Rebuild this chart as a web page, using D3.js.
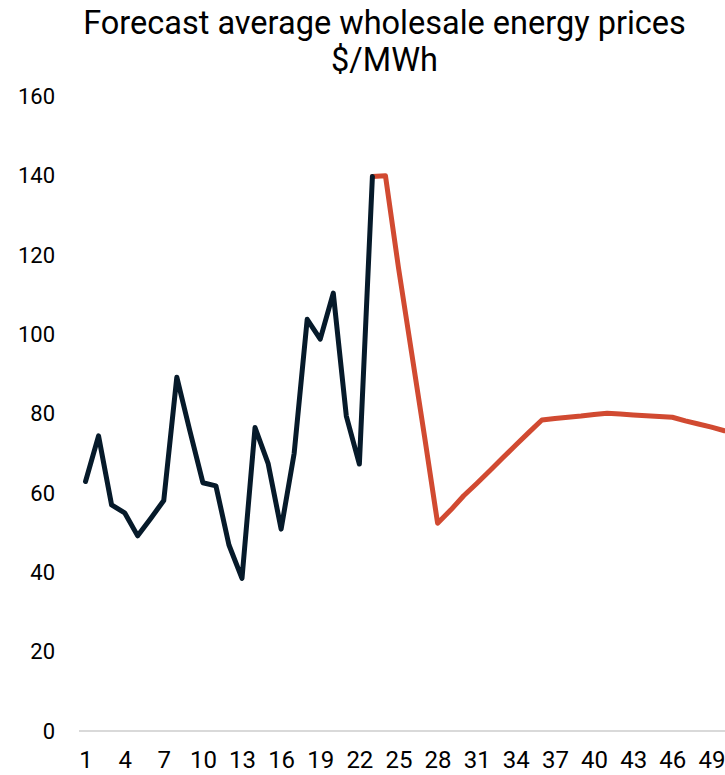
<!DOCTYPE html>
<html>
<head>
<meta charset="utf-8">
<script src="https://cdn.jsdelivr.net/npm/d3@7"></script>
<style>
  html, body { margin: 0; padding: 0; background: #fff; overflow: hidden; }
  text { font-family: Roboto, "Noto Sans", sans-serif; }
</style>
</head>
<body>
<svg id="chart" width="725" height="775"></svg>
<script>
const categories = d3.range(1, 51);
const actualValues = [62.9, 74.4, 57.0, 55.0, 49.2, 53.6, 58.1, 89.2, 75.7, 62.6,
  61.8, 46.9, 38.5, 76.5, 67.5, 50.9, 70.0, 103.8, 98.8, 110.4,
  79.4, 67.3, 139.8];
const forecastStart = 23;
const forecastValues = [139.8, 140.0, 116.8, 95.5, 74.2, 52.4, 55.7, 59.3, 62.4, 65.6,
  68.9, 72.1, 75.3, 78.4, 78.8, 79.1, 79.4, 79.8, 80.1, 79.9,
  79.7, 79.5, 79.3, 79.1, 78.2, 77.4, 76.6, 75.7];
const yTicks = [0, 20, 40, 60, 80, 100, 120, 140, 160];
const xTickLabels = categories.filter(c => (c - 1) % 3 === 0);
const titleLines = ["Forecast average wholesale energy prices", "$/MWh"];

const svg = d3.select("#chart");
const plotLeft = 79, step = 13.04;
const x = d3.scalePoint().domain(categories)
  .range([plotLeft, plotLeft + categories.length * step]).padding(0.5);
const y = d3.scaleLinear().domain([0, 160]).range([731, 96.4]);

// title
svg.append("g").selectAll("text").data(titleLines).join("text")
  .attr("x", 384.5).attr("y", (d, i) => 33.5 + i * 37.5)
  .attr("text-anchor", "middle")
  .attr("font-size", 32.5).attr("fill", "#000")
  .text(d => d);

// baseline
svg.append("line")
  .attr("x1", plotLeft).attr("x2", 725)
  .attr("y1", y(0)).attr("y2", y(0))
  .attr("stroke", "#d9d9d9").attr("stroke-width", 2);

// y axis labels
const yAxis = d3.axisLeft(y).tickValues(yTicks).tickSize(0).tickPadding(0);
const yG = svg.append("g").attr("transform", "translate(55,0)").call(yAxis);
yG.select(".domain").remove();
yG.selectAll("text").attr("font-size", 22).attr("fill", "#000")
  .attr("font-family", "Roboto, 'Noto Sans', sans-serif");

// x axis labels
const xAxis = d3.axisBottom(x).tickValues(xTickLabels).tickSize(0).tickPadding(0);
const xG = svg.append("g").attr("transform", "translate(0,751)").call(xAxis);
xG.select(".domain").remove();
xG.selectAll("text").attr("font-size", 24).attr("fill", "#000")
  .attr("font-family", "Roboto, 'Noto Sans', sans-serif");

const line = d3.line().x(d => x(d.c)).y(d => y(d.v));

const actual = actualValues.map((v, i) => ({ c: categories[i], v }));
const forecast = forecastValues.map((v, i) => ({ c: forecastStart + i, v }));

svg.append("path").datum(forecast)
  .attr("d", line).attr("fill", "none")
  .attr("stroke", "#d14a31").attr("stroke-width", 5)
  .attr("stroke-linejoin", "round").attr("stroke-linecap", "round");

svg.append("path").datum(actual)
  .attr("d", line).attr("fill", "none")
  .attr("stroke", "#061a2a").attr("stroke-width", 5)
  .attr("stroke-linejoin", "round").attr("stroke-linecap", "round");
</script>
</body>
</html>
